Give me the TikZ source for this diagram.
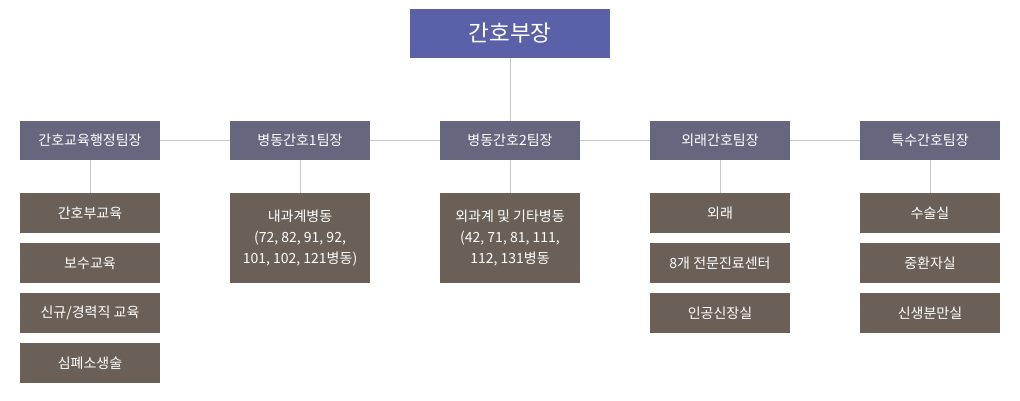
\documentclass[tikz,border=0pt]{standalone}
\usepackage{fontspec}
\setmainfont{Noto Sans CJK KR}
\usepackage{xcolor}
\usetikzlibrary{positioning}
\definecolor{headblue}{HTML}{5A61A8}
\definecolor{teamgray}{HTML}{66677F}
\definecolor{unitbrown}{HTML}{6A6057}
\definecolor{linkgray}{HTML}{C8C8C8}

\begin{document}
\begin{tikzpicture}[
  x=1pt, y=-1pt,
  node distance=10pt,
  head/.style={rectangle, fill=headblue, text=white, minimum width=200pt, minimum height=49pt, outer sep=0pt, font=\fontsize{22.5}{26}\selectfont},
  team/.style={rectangle, fill=teamgray, text=white, minimum width=140pt, minimum height=39pt, outer sep=0pt, font=\fontsize{14}{20}\selectfont},
  unit/.style={rectangle, fill=unitbrown, text=white, align=center, minimum width=140pt, minimum height=40pt, outer sep=0pt, font=\fontsize{14}{21}\selectfont},
  tallunit/.style={unit, minimum height=90pt},
  link/.style={draw=linkgray, line width=1pt}
]
\useasboundingbox (0,0) rectangle (1020,400);
\node[head] (chief) at (510,33.5) {간호부장};
\node[team] (t3) at (510,140.5) {병동간호2팀장};
\node[team, left=70pt of t3] (t2) {병동간호1팀장};
\node[team, left=70pt of t2] (t1) {간호교육행정팀장};
\node[team, right=70pt of t3] (t4) {외래간호팀장};
\node[team, right=70pt of t4] (t5) {특수간호팀장};
\node[unit, below=33pt of t1] (u11) {간호부교육};
\node[unit, below=of u11] (u12) {보수교육};
\node[unit, below=of u12] (u13) {신규/경력직 교육};
\node[unit, below=of u13] (u14) {심폐소생술};
\node[tallunit, below=33pt of t2] (u21) {내과계병동\\(72, 82, 91, 92,\\101, 102, 121병동)};
\node[tallunit, below=33pt of t3] (u31) {외과계 및 기타병동\\(42, 71, 81, 111,\\112, 131병동};
\node[unit, below=33pt of t4] (u41) {외래};
\node[unit, below=of u41] (u42) {8개 전문진료센터};
\node[unit, below=of u42] (u43) {인공신장실};
\node[unit, below=33pt of t5] (u51) {수술실};
\node[unit, below=of u51] (u52) {중환자실};
\node[unit, below=of u52] (u53) {신생분만실};
\draw[link] (chief) -- (t3);
\draw[link] (t1) -- (t2);
\draw[link] (t2) -- (t3);
\draw[link] (t3) -- (t4);
\draw[link] (t4) -- (t5);
\draw[link] (t1) -- (u11);
\draw[link] (t2) -- (u21);
\draw[link] (t3) -- (u31);
\draw[link] (t4) -- (u41);
\draw[link] (t5) -- (u51);
\end{tikzpicture}
\end{document}
